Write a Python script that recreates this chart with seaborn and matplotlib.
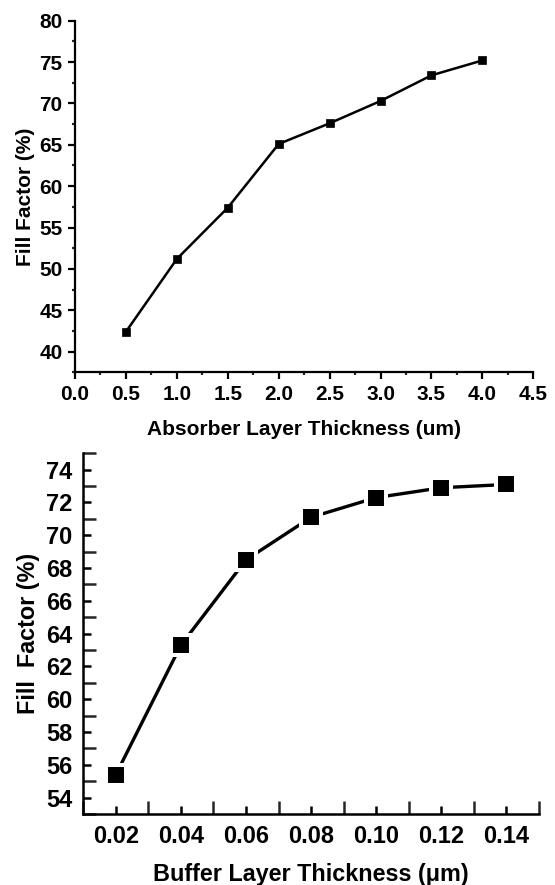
import matplotlib
matplotlib.use("Agg")
import matplotlib.pyplot as plt
import seaborn as sns
import pandas as pd
from matplotlib.ticker import MultipleLocator, FormatStrFormatter

sns.set_style("white")
plt.rcParams['font.family'] = ['Liberation Sans', 'DejaVu Sans']
plt.rcParams['font.weight'] = 'bold'

# Top panel data
absorber_thickness = [0.5, 1.0, 1.5, 2.0, 2.5, 3.0, 3.5, 4.0]
absorber_ff = [42.4, 51.2, 57.4, 65.1, 67.6, 70.3, 73.4, 75.2]

# Bottom panel data
buffer_thickness = [0.02, 0.04, 0.06, 0.08, 0.10, 0.12, 0.14]
buffer_ff = [55.4, 63.3, 68.5, 71.1, 72.3, 72.9, 73.1]

df_top = pd.DataFrame({"x": absorber_thickness, "y": absorber_ff})
df_bot = pd.DataFrame({"x": buffer_thickness, "y": buffer_ff})

fig = plt.figure(figsize=(5.55, 8.85), dpi=100)

# ---------- top axes ----------
ax1 = fig.add_axes([0.1351, 0.5793, 0.9610 - 0.1351, 0.9766 - 0.5793])
sns.lineplot(data=df_top, x="x", y="y", ax=ax1, color="black", linewidth=1.8,
             marker="s", markersize=5.5, markeredgecolor="black",
             markeredgewidth=0.5)
ax1.set_xlim(0, 4.5)
ax1.set_ylim(37.5, 80)
ax1.xaxis.set_major_locator(MultipleLocator(0.5))
ax1.xaxis.set_minor_locator(MultipleLocator(0.25))
ax1.yaxis.set_major_locator(MultipleLocator(5))
ax1.yaxis.set_minor_locator(MultipleLocator(2.5))
ax1.xaxis.set_major_formatter(FormatStrFormatter('%.1f'))
ax1.yaxis.set_major_formatter(FormatStrFormatter('%d'))
for s in ['top', 'right']:
    ax1.spines[s].set_visible(False)
for s in ['left', 'bottom']:
    ax1.spines[s].set_linewidth(1.6)
    ax1.spines[s].set_color('black')
ax1.tick_params(which='major', direction='out', length=5, width=1.6,
                labelsize=15, pad=4, bottom=True, left=True, colors='black')
ax1.tick_params(which='minor', direction='out', length=2.5, width=1.6,
                bottom=True, left=True)
for lab in ax1.get_xticklabels() + ax1.get_yticklabels():
    lab.set_fontweight('bold')
ax1.set_xlabel("Absorber Layer Thickness (um)", fontsize=15,
               fontweight='bold', labelpad=12, color='black')
ax1.set_ylabel("Fill Factor (%)", fontsize=15, fontweight='bold',
               labelpad=3, color='black')

# ---------- bottom axes ----------
ax2 = fig.add_axes([0.150, 0.0802, 0.9712 - 0.150, 0.4878 - 0.0802])
sns.lineplot(data=df_bot, x="x", y="y", ax=ax2, color="black", linewidth=2.4,
             marker="s", markersize=13.7, markeredgecolor="white",
             markeredgewidth=2.9, markerfacecolor="black")
ax2.set_xlim(0.01, 0.15)
ax2.set_ylim(53, 75)
ax2.xaxis.set_major_locator(MultipleLocator(0.02))
ax2.xaxis.set_minor_locator(MultipleLocator(0.01))
ax2.yaxis.set_major_locator(MultipleLocator(2))
ax2.yaxis.set_minor_locator(MultipleLocator(1))
ax2.xaxis.set_major_formatter(FormatStrFormatter('%.2f'))
ax2.yaxis.set_major_formatter(FormatStrFormatter('%d'))
for s in ['top', 'right']:
    ax2.spines[s].set_visible(False)
for s in ['left', 'bottom']:
    ax2.spines[s].set_linewidth(1.8)
    ax2.spines[s].set_color('black')
ax2.tick_params(which='major', direction='in', length=6, width=1.8,
                labelsize=17, pad=8, bottom=True, left=True, colors='black')
ax2.tick_params(which='minor', direction='in', length=9.5, width=1.8,
                bottom=True, left=True)
for lab in ax2.get_xticklabels() + ax2.get_yticklabels():
    lab.set_fontweight('bold')
ax2.set_xlabel("Buffer Layer Thickness (μm)", fontsize=16.8,
               fontweight='bold', labelpad=11, color='black')
ax2.set_ylabel("Fill  Factor (%)", fontsize=16.8, fontweight='bold',
               labelpad=4, color='black')

fig.savefig("out.png", dpi=100)
